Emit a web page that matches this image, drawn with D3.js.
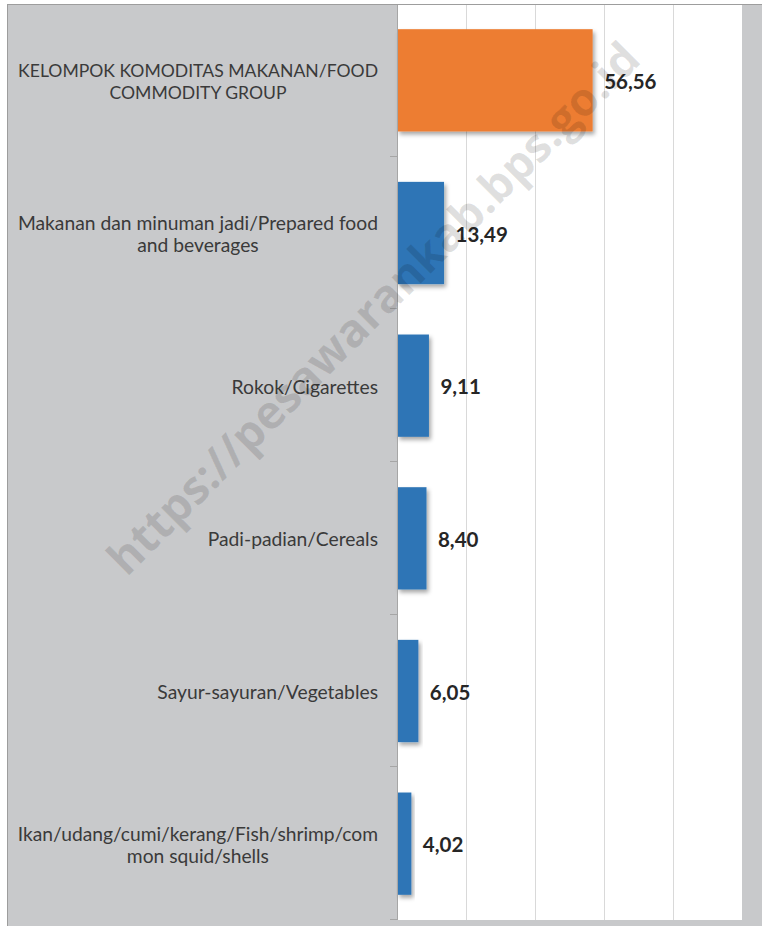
<!DOCTYPE html>
<html>
<head>
<meta charset="utf-8">
<script src="https://cdn.jsdelivr.net/npm/d3@7"></script>
<style>
  html, body { margin: 0; padding: 0; background: #fff; }
  svg { display: block; }
</style>
</head>
<body>
<svg id="chart" width="762" height="926"></svg>
<script>
// ---- data ----
const categories = [
  "KELOMPOK KOMODITAS MAKANAN/FOOD\nCOMMODITY GROUP",
  "Makanan dan minuman jadi/Prepared food\nand beverages",
  "Rokok/Cigarettes",
  "Padi-padian/Cereals",
  "Sayur-sayuran/Vegetables",
  "Ikan/udang/cumi/kerang/Fish/shrimp/com\nmon squid/shells"
];
const values = [56.56, 13.49, 9.11, 8.40, 6.05, 4.02];
const valueLabels = ["56,56", "13,49", "9,11", "8,40", "6,05", "4,02"];
const xTicks = [0, 20, 40, 60, 80, 100];
const watermark = "https://pesawarankab.bps.go.id";

// ---- layout ----
const svg = d3.select("#chart");
const plot = { left: 397, right: 742, top: 5, bottom: 920 };

const defs = svg.append("defs");
const f = defs.append("filter").attr("id", "shadow")
  .attr("x", "-10%").attr("y", "-10%").attr("width", "130%").attr("height", "130%");
f.append("feDropShadow").attr("dx", 2).attr("dy", 3).attr("stdDeviation", 2)
  .attr("flood-color", "#000").attr("flood-opacity", 0.35);

// chart area background (grey) with border
svg.append("rect").attr("x", 7.5).attr("y", 4.5).attr("width", 800).attr("height", 960)
  .attr("fill", "#c8c9cb").attr("stroke", "#9d9d9d").attr("stroke-width", 1);

// plot area
svg.append("rect").attr("x", plot.left).attr("y", plot.top)
  .attr("width", plot.right - plot.left).attr("height", plot.bottom - plot.top)
  .attr("fill", "#ffffff");

const x = d3.scaleLinear().domain([0, 100]).range([plot.left, plot.right]);
const y = d3.scaleBand().domain(categories).range([plot.top - 1, plot.bottom]).paddingInner(0.33).paddingOuter(0.165);
const yOuter = d3.scaleBand().domain(categories).range([plot.top - 1, plot.bottom]);

// gridlines
svg.append("g").selectAll("line").data(xTicks.filter(d => d > 0 && d < 100)).join("line")
  .attr("x1", d => Math.round(x(d)) + 0.5).attr("x2", d => Math.round(x(d)) + 0.5)
  .attr("y1", plot.top).attr("y2", plot.bottom)
  .attr("stroke", "#d9d9d9").attr("stroke-width", 1);

// bars
svg.append("g").selectAll("rect").data(categories).join("rect")
  .attr("x", x(0) + 0.5)
  .attr("y", d => y(d))
  .attr("width", (d, i) => x(values[i]) - x(0))
  .attr("height", y.bandwidth())
  .attr("fill", (d, i) => i === 0 ? "#ed7d31" : "#2e75b6")
  .attr("filter", "url(#shadow)");

// y axis line + ticks at band boundaries
svg.append("line").attr("x1", plot.left + 0.5).attr("x2", plot.left + 0.5)
  .attr("y1", plot.top).attr("y2", plot.bottom)
  .attr("stroke", "#a6a6a6");
const bounds = categories.map(c => yOuter(c) + yOuter.bandwidth());
svg.append("g").selectAll("line").data(bounds).join("line")
  .attr("x1", plot.left - 7).attr("x2", plot.left)
  .attr("y1", d => Math.round(d) - 0.5).attr("y2", d => Math.round(d) - 0.5)
  .attr("stroke", "#a6a6a6");

// value labels
svg.append("g").selectAll("text").data(categories).join("text")
  .attr("x", (d, i) => x(values[i]) + 12)
  .attr("y", d => y(d) + y.bandwidth() / 2 + 8.5)
  .attr("font-family", "Lato, 'Open Sans', sans-serif")
  .attr("font-weight", "bold")
  .attr("font-size", 20.5)
  .attr("fill", "#262626")
  .text((d, i) => valueLabels[i]);

// category labels
const labelRight = 378;
const maxLabelW = 360;
const baseSize = 19.3;
const lineH = 22;
const capOff = 7;
const gl = svg.append("g")
  .attr("font-family", "Lato, 'Open Sans', sans-serif")
  .attr("fill", "#3a3a3a");
categories.forEach(c => {
  const lines = c.split("\n");
  const cy = yOuter(c) + yOuter.bandwidth() / 2 + 1;
  const t = gl.append("text").attr("text-anchor", "middle").attr("font-size", baseSize);
  const spans = lines.map((ln, k) => t.append("tspan").text(ln)
    .attr("y", cy - (lines.length - 1) * lineH / 2 + k * lineH + capOff));
  let w = d3.max(spans, s => s.node().getComputedTextLength());
  if (w > maxLabelW) {
    t.attr("font-size", baseSize * maxLabelW / w);
    w = d3.max(spans, s => s.node().getComputedTextLength());
  }
  spans.forEach(s => s.attr("x", labelRight - w / 2));
});

// watermark
svg.append("text")
  .attr("transform", "translate(376,311) rotate(-45)")
  .attr("text-anchor", "middle")
  .attr("dominant-baseline", "middle")
  .attr("font-family", "'Open Sans', Lato, sans-serif")
  .attr("font-weight", "bold")
  .attr("font-size", 46)
  .attr("fill", "#000")
  .attr("fill-opacity", 0.12)
  .text(watermark);
</script>
</body>
</html>
